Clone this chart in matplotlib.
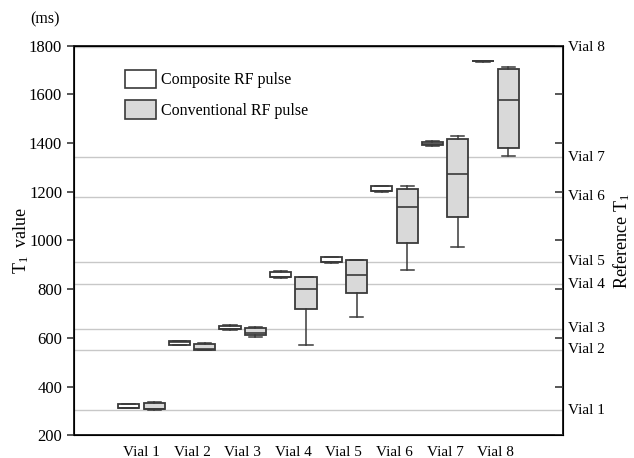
import matplotlib
matplotlib.use("Agg")
import matplotlib.pyplot as plt
from matplotlib.patches import Patch
import matplotlib.transforms as mtransforms

plt.rcParams['font.family'] = ['Liberation Serif', 'DejaVu Serif']
plt.rcParams['mathtext.fontset'] = 'custom'
plt.rcParams['mathtext.rm'] = 'Liberation Serif'
plt.rcParams['mathtext.it'] = 'Liberation Serif:italic'

vials = ['Vial 1', 'Vial 2', 'Vial 3', 'Vial 4', 'Vial 5', 'Vial 6', 'Vial 7', 'Vial 8']
ref_t1 = [303, 551, 637, 820, 913, 1180, 1342, 1793]

# box stats: whislo, q1, median, q3, whishi
composite = [
    [312, 312, 312, 327, 330],
    [571, 572, 585, 586, 588],
    [634, 635, 635, 649, 652],
    [848, 850, 850, 872, 873],
    [908, 910, 910, 932, 932],
    [1200, 1202, 1202, 1222, 1222],
    [1390, 1392, 1395, 1406, 1408],
    [1735, 1736, 1737, 1738, 1739],
]
conventional = [
    [305, 307, 309, 334, 335],
    [549, 551, 554, 575, 577],
    [603, 610, 622, 642, 643],
    [569, 720, 799, 850, 850],
    [687, 783, 858, 921, 921],
    [880, 988, 1136, 1213, 1222],
    [972, 1098, 1272, 1415, 1429],
    [1348, 1381, 1578, 1704, 1711],
]


def to_stats(rows):
    out = []
    for lo, q1, med, q3, hi in rows:
        out.append({'whislo': lo, 'q1': q1, 'med': med, 'q3': q3, 'whishi': hi, 'fliers': []})
    return out


fig = plt.figure(figsize=(6.34, 4.58), dpi=100)
ax = fig.add_axes([0.1167, 0.0496, 0.7713, 0.8506])

edge = '#3a3a3a'
pos = list(range(1, len(vials) + 1))
offset = 0.25
width = 0.42

for data, shift, face in [(composite, -offset, 'white'), (conventional, offset, '#d9d9d9')]:
    ax.bxp(to_stats(data), positions=[p + shift for p in pos], widths=width,
           patch_artist=True, showfliers=False, capwidths=0.26,
           boxprops=dict(facecolor=face, edgecolor=edge, linewidth=1.3),
           medianprops=dict(color=edge, linewidth=1.2),
           whiskerprops=dict(color=edge, linewidth=1.1),
           capprops=dict(color=edge, linewidth=1.1), zorder=3)

for r in ref_t1:
    ax.axhline(r, color='#c8c8c8', linewidth=1.0, zorder=1)

ax.set_xlim(-0.334, 9.33)
ax.set_ylim(200, 1800)
ax.set_yticks(range(200, 1801, 200))
ax.set_xticks(pos)
ax.set_xticklabels(vials, fontsize=11)
ax.tick_params(axis='x', length=0, pad=8)
ax.tick_params(axis='y', direction='out', length=5, width=1.2, labelsize=12, color=edge)
for s in ax.spines.values():
    s.set_linewidth(1.4)
    s.set_color('#222222')

ax.set_ylabel('T$_1$  value', fontsize=13)
ax.yaxis.set_label_coords(-0.088, 0.5)
fig.text(0.047, 0.958, '(ms)', fontsize=11.5, ha='left', va='center')

ax2 = ax.twinx()
ax2.set_ylim(200, 1800)
ax2.set_yticks(range(200, 1801, 200))
ax2.tick_params(axis='y', direction='in', length=6, width=1.2, labelright=False, color=edge)
fig.text(0.981, 0.475, 'Reference T$_1$', fontsize=13, rotation=90, ha='center', va='center')

trans = mtransforms.blended_transform_factory(ax.transAxes, ax.transData)
for name, r in zip(vials, ref_t1):
    ax.text(1.01, r, name, transform=trans, fontsize=11, ha='left', va='center')

handles = [Patch(facecolor='white', edgecolor=edge, linewidth=1.2, label='Composite RF pulse'),
           Patch(facecolor='#d9d9d9', edgecolor=edge, linewidth=1.2, label='Conventional RF pulse')]
ax.legend(handles=handles, loc='upper left', bbox_to_anchor=(0.074, 0.975), frameon=False,
          fontsize=11.5, handlelength=2.0, handleheight=1.4, labelspacing=0.75, handletextpad=0.3)

fig.savefig('out.png', dpi=100, facecolor='white')
